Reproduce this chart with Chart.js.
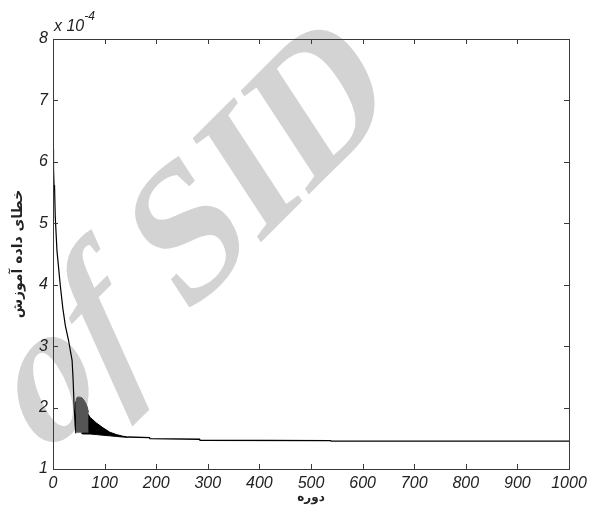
<!DOCTYPE html>
<html>
<head>
<meta charset="utf-8">
<script src="https://cdn.jsdelivr.net/npm/chart.js@4.4.1/dist/chart.umd.min.js"></script>
<style>
html, body { margin: 0; padding: 0; background: #fff; }
#wrap { width: 592px; height: 505px; }
</style>
</head>
<body>
<div id="wrap"><canvas id="errorChart"></canvas></div>
<script>
// training error (x 10^-4) per epoch
var decayEpochs = [0, 1, 2, 3, 4.4, 7.7, 14, 19, 24, 30, 37, 39, 41, 43, 44, 44.5];
var decayValues = [6.2, 5.9, 5.62, 5.6, 5.1, 4.55, 4.0, 3.62, 3.33, 3.1, 2.77, 2.45, 2.0, 1.7, 1.58, 2.1];

// first dense oscillation block (grey)
var greyEpochs = [44.5, 46, 48, 52, 56, 60, 63, 66, 69];
var greyUpper = [2.1, 2.16, 2.17, 2.17, 2.16, 2.12, 2.08, 2.02, 1.92];
var greyLower = [1.62, 1.6, 1.6, 1.6, 1.6, 1.6, 1.6, 1.6, 1.6];

// second oscillation block (black), decaying
var blackEpochs = [55, 58, 62, 72, 84, 97, 110, 123, 135, 145];
var blackUpper = [1.7, 1.97, 1.97, 1.84, 1.75, 1.67, 1.6, 1.56, 1.535, 1.52];
var blackLower = [1.58, 1.57, 1.57, 1.57, 1.56, 1.55, 1.54, 1.53, 1.52, 1.515];

// flat tail
var tailEpochs = [145, 187, 188, 284, 285, 538, 539, 1000];
var tailValues = [1.52, 1.51, 1.495, 1.485, 1.467, 1.462, 1.453, 1.453];

var xTicks = [0, 100, 200, 300, 400, 500, 600, 700, 800, 900, 1000];
var yTicks = [1, 2, 3, 4, 5, 6, 7, 8];

var tickFont = { family: '"Liberation Sans Narrow", "Liberation Sans", Arial', style: 'italic', size: 16 };

function pts(xs, ys) {
    return xs.map(function (x, i) { return { x: x, y: ys[i] }; });
}

var watermark = {
    id: 'watermark',
    beforeDraw: function (chart) {
        var ctx = chart.ctx;
        ctx.save();
        ctx.fillStyle = '#fff';
        ctx.fillRect(0, 0, chart.width, chart.height);
        ctx.translate(185, 318);
        ctx.scale(0.81, 1);
        ctx.rotate(-39 * Math.PI / 180);
        ctx.fillStyle = '#d3d3d3';
        ctx.font = 'bold 204px "Liberation Serif"';
        ctx.fillText('SID', 0, 0);
        ctx.font = 'italic bold 204px "Liberation Serif"';
        var w = ctx.measureText('of ').width;
        ctx.fillText('of', -w, 0);
        ctx.restore();
    }
};

var frame = {
    id: 'frame',
    afterDatasetsDraw: function (chart) {
        var ctx = chart.ctx;
        var a = chart.chartArea;
        var xs = chart.scales.x, ys = chart.scales.y;
        ctx.save();
        ctx.strokeStyle = '#3a3a3a';
        ctx.lineWidth = 1;
        ctx.strokeRect(Math.round(a.left) + 0.5, Math.round(a.top) + 0.5,
            Math.round(a.right - a.left), Math.round(a.bottom - a.top));
        ctx.beginPath();
        xTicks.forEach(function (t) {
            var px = Math.round(xs.getPixelForValue(t)) + 0.5;
            ctx.moveTo(px, a.bottom); ctx.lineTo(px, a.bottom - 5);
            ctx.moveTo(px, a.top); ctx.lineTo(px, a.top + 5);
        });
        yTicks.forEach(function (t) {
            var py = Math.round(ys.getPixelForValue(t)) + 0.5;
            ctx.moveTo(a.left, py); ctx.lineTo(a.left + 5, py);
            ctx.moveTo(a.right, py); ctx.lineTo(a.right - 5, py);
        });
        ctx.stroke();
        // exponent label
        ctx.fillStyle = '#222';
        ctx.textBaseline = 'alphabetic';
        ctx.font = 'italic 16px "Liberation Sans Narrow", "Liberation Sans", Arial';
        ctx.fillText('x 10', a.left + 1, a.top - 8);
        var w = ctx.measureText('x 10').width;
        ctx.font = 'italic 12px "Liberation Sans Narrow", "Liberation Sans", Arial';
        ctx.fillText('-4', a.left + 1 + w, a.top - 19);
        ctx.restore();
    }
};

var ctx = document.getElementById('errorChart').getContext('2d');
var errorChart = new Chart(ctx, {
    type: 'line',
    data: {
        datasets: [
            { data: pts(greyEpochs, greyUpper), borderColor: '#555', backgroundColor: '#555', borderWidth: 1, fill: '+1' },
            { data: pts(greyEpochs, greyLower), borderColor: '#555', borderWidth: 1, fill: false },
            { data: pts(blackEpochs, blackUpper), borderColor: '#000', backgroundColor: '#000', borderWidth: 1, fill: '+1' },
            { data: pts(blackEpochs, blackLower), borderColor: '#000', borderWidth: 1, fill: false },
            { data: pts(decayEpochs, decayValues), borderColor: '#000', borderWidth: 1.2, fill: false },
            { data: pts(tailEpochs, tailValues), borderColor: '#000', borderWidth: 1.4, fill: false }
        ]
    },
    options: {
        responsive: true,
        maintainAspectRatio: false,
        animation: false,
        devicePixelRatio: 1,
        elements: { point: { radius: 0 }, line: { tension: 0 } },
        layout: { padding: { top: 39, right: 23, left: 0, bottom: 0 } },
        plugins: { legend: { display: false }, tooltip: { enabled: false } },
        scales: {
            x: {
                type: 'linear', min: 0, max: 1000,
                afterBuildTicks: function (s) { s.ticks = xTicks.map(function (v) { return { value: v }; }); },
                afterFit: function (s) { s.height = 36; },
                grid: { display: false, drawTicks: false },
                border: { display: false },
                ticks: { font: tickFont, color: '#222', padding: 5, maxRotation: 0,
                    callback: function (v) { return String(v); } },
                title: { display: true, text: 'دوره', color: '#222',
                    font: { family: '"DejaVu Sans"', weight: 'bold', size: 12 }, padding: { top: 0, bottom: 0 } }
            },
            y: {
                type: 'linear', min: 1, max: 8,
                afterBuildTicks: function (s) { s.ticks = yTicks.map(function (v) { return { value: v }; }); },
                afterFit: function (s) { s.width = 53; },
                grid: { display: false, drawTicks: false },
                border: { display: false },
                ticks: { font: tickFont, color: '#222', padding: 5,
                    callback: function (v) { return String(v); } },
                title: { display: true, text: 'خطای داده آموزش', color: '#222',
                    font: { family: '"DejaVu Sans"', weight: 'bold', size: 14 }, padding: { top: 10, bottom: 0 } }
            }
        }
    },
    plugins: [watermark, frame]
});
</script>
</body>
</html>
